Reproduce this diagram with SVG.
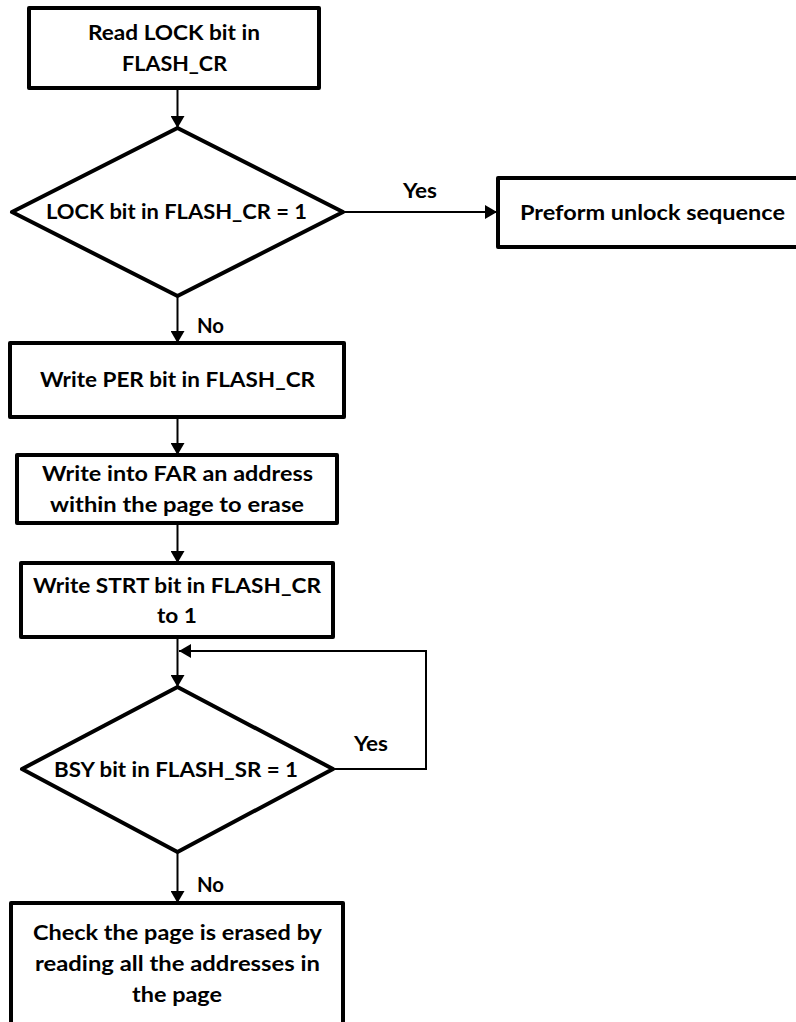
<svg xmlns="http://www.w3.org/2000/svg" width="796" height="1022" viewBox="0 0 796 1022">
  <style>
    .box { fill: #ffffff; stroke: #000000; stroke-width: 4; stroke-linejoin: round; }
    .wire { fill: none; stroke: #000000; stroke-width: 2; }
    .lbl { font-family: Lato, "Open Sans", "Liberation Sans", sans-serif; font-weight: 700; font-size: 20px; fill: #000000; text-anchor: middle; }
  </style>
  <defs>
    <marker id="arrow" viewBox="0 0 12 14" refX="12" refY="7" markerWidth="12" markerHeight="14" markerUnits="userSpaceOnUse" orient="auto">
      <path d="M0,0 L12,7 L0,14 Z" fill="#000000"/>
    </marker>
  </defs>
  <rect width="796" height="1022" fill="#ffffff"/>

  <!-- connectors -->
  <g id="connectors">
    <line class="wire" x1="177.5" y1="88" x2="177.5" y2="128" marker-end="url(#arrow)"/>
    <line class="wire" x1="343" y1="212" x2="497" y2="212" marker-end="url(#arrow)"/>
    <line class="wire" x1="177.5" y1="296" x2="177.5" y2="343" marker-end="url(#arrow)"/>
    <line class="wire" x1="177.5" y1="417" x2="177.5" y2="455" marker-end="url(#arrow)"/>
    <line class="wire" x1="177.5" y1="523" x2="177.5" y2="563" marker-end="url(#arrow)"/>
    <line class="wire" x1="177.5" y1="637" x2="177.5" y2="687" marker-end="url(#arrow)"/>
    <polyline class="wire" points="333,769 426,769 426,651 179,651" marker-end="url(#arrow)"/>
    <line class="wire" x1="177.5" y1="852" x2="177.5" y2="903" marker-end="url(#arrow)"/>
    <text class="lbl" x="420" y="198" textLength="34" lengthAdjust="spacingAndGlyphs">Yes</text>
    <text class="lbl" x="210.5" y="333" textLength="27" lengthAdjust="spacingAndGlyphs">No</text>
    <text class="lbl" x="371" y="751" textLength="34" lengthAdjust="spacingAndGlyphs">Yes</text>
    <text class="lbl" x="210.5" y="892" textLength="27" lengthAdjust="spacingAndGlyphs">No</text>
  </g>

  <!-- read lock -->
  <g id="read-lock">
    <rect class="box" x="29" y="8" width="290" height="80"/>
    <text class="lbl" x="174" y="39.5" textLength="172" lengthAdjust="spacingAndGlyphs">Read LOCK bit in</text>
    <text class="lbl" x="174.5" y="71" textLength="105" lengthAdjust="spacingAndGlyphs">FLASH_CR</text>
  </g>

  <!-- lock decision -->
  <g id="lock-check">
    <polygon class="box" points="177.5,128 343,212 177.5,296 12,212"/>
    <text class="lbl" x="176.5" y="219" textLength="261" lengthAdjust="spacingAndGlyphs">LOCK bit in FLASH_CR = 1</text>
  </g>

  <!-- unlock -->
  <g id="unlock">
    <rect class="box" x="498" y="178" width="310" height="69"/>
    <text class="lbl" x="652.5" y="220" textLength="265" lengthAdjust="spacingAndGlyphs">Preform unlock sequence</text>
  </g>

  <!-- PER -->
  <g id="write-per">
    <rect class="box" x="10" y="343" width="334" height="74"/>
    <text class="lbl" x="177.5" y="387" textLength="275" lengthAdjust="spacingAndGlyphs">Write PER bit in FLASH_CR</text>
  </g>

  <!-- FAR -->
  <g id="write-far">
    <rect class="box" x="17" y="455" width="320" height="68"/>
    <text class="lbl" x="177.5" y="481" textLength="271" lengthAdjust="spacingAndGlyphs">Write into FAR an address</text>
    <text class="lbl" x="177" y="512" textLength="254" lengthAdjust="spacingAndGlyphs">within the page to erase</text>
  </g>

  <!-- STRT -->
  <g id="write-strt">
    <rect class="box" x="21" y="563" width="312" height="74"/>
    <text class="lbl" x="177" y="593" textLength="288" lengthAdjust="spacingAndGlyphs">Write STRT bit in FLASH_CR</text>
    <text class="lbl" x="177" y="623" textLength="40" lengthAdjust="spacingAndGlyphs">to 1</text>
  </g>

  <!-- busy decision -->
  <g id="busy-check">
    <polygon class="box" points="177.5,687 333,769 177.5,852 22,769"/>
    <text class="lbl" x="176" y="777" textLength="244" lengthAdjust="spacingAndGlyphs">BSY bit in FLASH_SR = 1</text>
  </g>

  <!-- verify -->
  <g id="verify">
    <rect class="box" x="11" y="903" width="332" height="130"/>
    <text class="lbl" x="177.5" y="940" textLength="289" lengthAdjust="spacingAndGlyphs">Check the page is erased by</text>
    <text class="lbl" x="177.5" y="971" textLength="285" lengthAdjust="spacingAndGlyphs">reading all the addresses in</text>
    <text class="lbl" x="177" y="1002" textLength="90" lengthAdjust="spacingAndGlyphs">the page</text>
  </g>
</svg>
